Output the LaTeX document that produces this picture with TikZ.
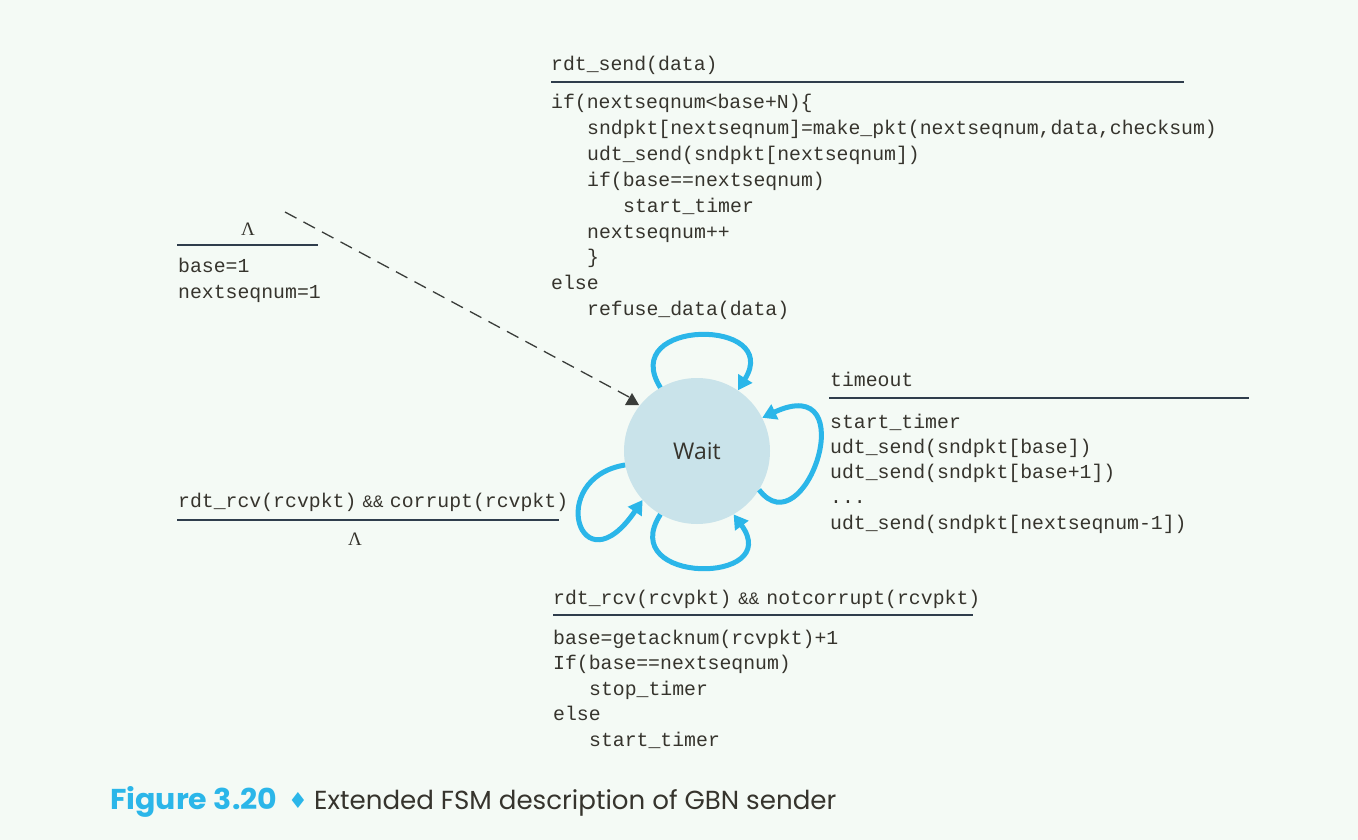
\documentclass[tikz,border=0pt]{standalone}
\usepackage{fontspec}
\setmonofont{Liberation Mono}
\setsansfont{Open Sans}
\newfontfamily\capfont{Poppins}
\newfontfamily\symfont{DejaVu Sans}
\usetikzlibrary{arrows.meta}
\definecolor{bg}{HTML}{F4FAF5}
\definecolor{txt}{HTML}{36342D}
\definecolor{rulec}{HTML}{2F3D4C}
\definecolor{cyanc}{HTML}{2BB6E9}
\definecolor{statefill}{HTML}{C9E3EA}
\definecolor{dashc}{HTML}{3A3D3A}
\newcommand{\andand}[1]{\makebox[#1][c]{\fontsize{17.5}{20}\selectfont\&\&}}
\begin{document}
\begin{tikzpicture}[x=1pt,y=-1pt,
  code/.style={anchor=base west,inner sep=0pt,text=txt,font=\ttfamily\fontsize{19.8}{24}\selectfont},
  lam/.style={anchor=base,inner sep=0pt,text=txt,font=\fontspec{Liberation Serif}\fontsize{19}{24}\selectfont},
  rulel/.style={draw=rulec,line width=1.5pt},
  selfloop/.style={draw=cyanc,line width=5pt,-{Triangle[length=14pt,width=16pt]}},
  state/.style={circle,fill=statefill,minimum size=146pt,inner sep=0pt,text=txt,font=\sffamily\fontsize{23}{27}\selectfont}]
\fill[bg] (0,0) rectangle (1358,840);
\useasboundingbox (0,0) rectangle (1358,840);

% state
\node[state] (wait) at (697,451) {Wait};

% initial transition
\coordinate (init) at (285,212);
\coordinate (tip) at (629,397);
\draw[dashc,line width=1.3pt,dash pattern=on 13pt off 8pt] (init) -- (tip);
\fill[dashc] (625,405) -- (639,405) -- (632,393) -- cycle;
\node[lam] (lam1) at (248,235) {Λ};
\draw[rulel] (177,245) -- (318,245);
\node[code] (b1) at (178,272) {base=1};
\node[code] (n1) at (178,298) {nextseqnum=1};

% self loops
\draw[selfloop] (wait.120) .. controls (617,318) and (783,318) .. (wait.56);
\draw[selfloop] (wait.-32) .. controls (805,550) and (865,370) .. (wait.27);
\draw[selfloop] (wait.-120) .. controls (615,585) and (785,585) .. (wait.-60);
\draw[selfloop] (wait.191) .. controls (545,478) and (580,592) .. (wait.222);

% top label
\node[code] (t0) at (551,71) {rdt\_send(data)};
\draw[rulel] (551,82) -- (1184,82);
\node[code] (t1) at (551,109) {if(nextseqnum<base+N)\{};
\node[code] (t2) at (587,134.8) {sndpkt[nextseqnum]=make\_pkt(nextseqnum,data,checksum)};
\node[code] (t3) at (587,160.6) {udt\_send(sndpkt[nextseqnum])};
\node[code] (t4) at (587,186.4) {if(base==nextseqnum)};
\node[code] (t5) at (623,212.2) {start\_timer};
\node[code] (t6) at (587,238) {nextseqnum++};
\node[code] (t7) at (587,263.8) {\}};
\node[code] (t8) at (551,289.6) {else};
\node[code] (t9) at (587,315.4) {refuse\_data(data)};

% timeout label
\node[code] (r0) at (830,386) {timeout};
\draw[rulel] (829,398) -- (1249,398);
\node[code] (r1) at (830,428) {start\_timer};
\node[code] (r2) at (830,453.3) {udt\_send(sndpkt[base])};
\node[code] (r3) at (830,478.6) {udt\_send(sndpkt[base+1])};
\node[code] (r4) at (830,503.9) {...};
\node[code] (r5) at (830,529.2) {udt\_send(sndpkt[nextseqnum-1])};

% left label
\node[code] (l0) at (178,507) {rdt\_rcv(rcvpkt)\andand{33.5pt}corrupt(rcvpkt)};
\draw[rulel] (177,520) -- (559,520);
\node[lam] (lam2) at (355,545) {Λ};

% bottom label
\node[code] (u0) at (553,604) {rdt\_rcv(rcvpkt)\andand{35pt}notcorrupt(rcvpkt)};
\draw[rulel] (553,615) -- (973,615);
\node[code] (u1) at (553,644) {base=getacknum(rcvpkt)+1};
\node[code] (u2) at (553,669.5) {If(base==nextseqnum)};
\node[code] (u3) at (589,695) {stop\_timer};
\node[code] (u4) at (553,720.5) {else};
\node[code] (u5) at (589,746) {start\_timer};

% caption
\node[anchor=base west,inner sep=0pt,text=cyanc,font=\capfont\bfseries] (figlab) at (110,809.5) {\resizebox{167pt}{23pt}{Figure 3.20}};
\node[inner sep=0pt,text=cyanc,font=\symfont\fontsize{22}{26}\selectfont] (dia) at (298,800) {♦};
\node[anchor=base west,inner sep=0pt,text=txt,font=\capfont] (captext) at (314,809.5) {\resizebox{522pt}{!}{Extended FSM description of GBN sender}};
\end{tikzpicture}
\end{document}
